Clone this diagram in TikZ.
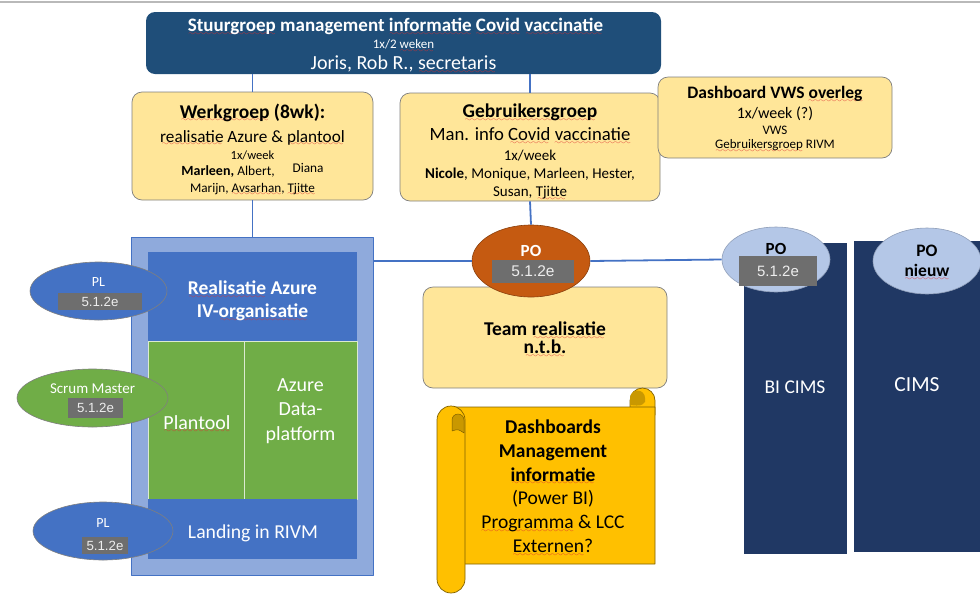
\documentclass[tikz,border=0pt]{standalone}
\usepackage{fontspec}
\setmainfont{Carlito}
\newfontfamily\arialfont{Liberation Sans}
\usetikzlibrary{shapes.geometric}
\definecolor{stuurblue}{HTML}{1F4E79}
\definecolor{lightyel}{HTML}{FFE699}
\definecolor{boxgray}{HTML}{7F7F7F}
\definecolor{linkblue}{HTML}{4472C4}
\definecolor{paleblue}{HTML}{8FAADC}
\definecolor{greenfill}{HTML}{70AD47}
\definecolor{orangepo}{HTML}{C55A11}
\definecolor{lightpo}{HTML}{B4C7E7}
\definecolor{navy}{HTML}{203864}
\definecolor{codegray}{HTML}{6E6E6E}
\definecolor{codetxt}{HTML}{EDEDED}
\definecolor{scrollfill}{HTML}{FFC000}
\definecolor{scrolldark}{HTML}{C99800}
\definecolor{scrollline}{HTML}{7F6000}
\definecolor{spellred}{HTML}{E03030}
\font\wavefont=lasy7
\newcommand\spell[1]{\setbox0\hbox{#1}\rlap{\raisebox{-3.8pt}{\hbox to \wd0{\cleaders\hbox{{\color{spellred}\wavefont\char58}}\hfill}}}\box0\relax}
\newcommand\fz[1]{\fontsize{#1}{#1}\selectfont}
\newcommand\tight{\lineskiplimit-50pt\relax}
\begin{document}
\begin{tikzpicture}[x=1pt,y=-1pt,line join=round,
  ybox/.style={draw=boxgray,fill=lightyel,rounded corners=10pt,line width=0.7pt,inner sep=0pt},
  txt/.style={align=center,inner sep=0pt},
  link/.style={draw=linkblue,line width=1.8pt},
  pers/.style={ellipse,inner sep=0pt,line width=0.6pt},
  code/.style={fill=codegray,text=codetxt,inner sep=0pt,font=\arialfont\fz{13.3}},
  col/.style={fill=navy,draw=white,line width=0.5pt,inner sep=0pt},
  scroll/.style={fill=scrollfill,draw=scrollline,line width=0.7pt}]
\useasboundingbox (0,0) rectangle (980,598);
\draw[gray!55,line width=1.2pt] (0,2) -- (980,2);

\node[fill=stuurblue,rounded corners=9pt,minimum width=515pt,minimum height=62pt,inner sep=0pt] (stuur) at (403.5,43) {};
\node[txt,text=white,font=\fontsize{10}{17}\selectfont\tight] (stuurtxt) at (403.5,45.5) {\fz{19}\bfseries\spell{Stuurgroep} management \spell{informatie} \spell{Covid} \spell{vaccinatie}\hspace*{16pt}\\ \fz{13}1x/2 \spell{weken}\\[4pt] \fz{20}Joris, Rob R., \spell{secretaris}};

\node[ybox,minimum width=241pt,minimum height=108pt] (werk) at (252.5,146) {};
\node[txt,font=\fontsize{10}{17}\selectfont\tight] (werktxt) at (252.5,149.7) {\fz{19.5}\bfseries\spell{Werkgroep} (8wk):\\[7pt] \fz{17.2}\spell{realisatie} Azure \& \spell{plantool}\\[0pt] \fz{12.5}1x/week\\[-1pt] \fz{14}\textbf{Marleen,} \fz{13.5}Albert,\hspace{18pt}\raisebox{2.5pt}{\fz{13.3}Diana}\hspace*{-4pt}\\ \fz{13.2}Marijn, \spell{Avsarhan}, \spell{Tjitte}};

\node[ybox,minimum width=260pt,minimum height=108pt] (gebr) at (530,147) {};
\node[txt,font=\fontsize{10}{17}\selectfont\tight] (gebrtxt) at (530,152) {\fz{19.5}\bfseries\spell{Gebruikersgroep}\\[6pt] \fz{18.7}Man. info \spell{Covid} \spell{vaccinatie}\\[3pt] \fz{15}1x/week\\[1pt] \fz{15}\textbf{Nicole}, Monique, Marleen, Hester,\\[1pt] \fz{15}Susan, \spell{Tjitte}};

\node[ybox,minimum width=234pt,minimum height=81pt] (vws) at (775,117.5) {};
\node[txt,font=\fontsize{10}{16}\selectfont\tight] (vwstxt) at (775,119) {\fz{17.5}\bfseries Dashboard VWS \spell{overleg}\\[4pt] \fz{16}1x/week (?)\\ \fz{13}VWS\\[-2pt] \fz{13}\spell{Gebruikersgroep} RIVM};

\node[fill=paleblue,draw=linkblue,line width=0.8pt,minimum width=242pt,minimum height=338pt,inner sep=0pt] (bigbox) at (252,406) {};
\node[fill=linkblue,minimum width=209pt,minimum height=89pt,inner sep=0pt] (realis) at (252.5,296.5) {};
\node[txt,text=white,font=\fontsize{19.5}{23}\selectfont\bfseries\tight] (realistxt) at (252.5,301.5) {\spell{Realisatie} Azure\\IV-\spell{organisatie}};
\node[fill=greenfill,draw=white!75!greenfill,line width=0.6pt,minimum width=96pt,minimum height=158pt,inner sep=0pt] (plantool) at (196,420) {};
\node[txt,text=white,font=\fz{20}] (plantooltxt) at (197,424) {\spell{Plantool}};
\node[fill=greenfill,draw=white!75!greenfill,line width=0.6pt,minimum width=113pt,minimum height=158pt,inner sep=0pt] (dataplat) at (300.5,420) {};
\node[txt,text=white,font=\fontsize{20}{24.5}\selectfont\tight] (dataplattxt) at (300.5,411) {Azure\\Data-\\platform};
\node[fill=linkblue,minimum width=209pt,minimum height=60pt,inner sep=0pt] (landing) at (252.5,529) {};
\node[txt,text=white,font=\fz{19.7}] (landingtxt) at (253,533) {Landing in RIVM};

\node[pers,fill=linkblue,draw=boxgray,minimum width=137pt,minimum height=58pt] (plA) at (98.5,291) {};
\node[txt,text=white,font=\fz{14}] (plAtxt) at (98.5,282) {PL};
\node[code,minimum width=84pt,minimum height=17pt] (plAcode) at (100,301.5) {5.1.2e};
\node[pers,fill=greenfill,draw=boxgray,minimum width=151pt,minimum height=58pt] (scrum) at (92.5,398) {};
\node[txt,text=white,font=\fz{15}] (scrumtxt) at (92.5,389) {Scrum Master};
\node[code,minimum width=55pt,minimum height=20pt] (scrumcode) at (95.5,408) {5.1.2e};
\node[pers,fill=linkblue,draw=boxgray,minimum width=140pt,minimum height=58pt] (plB) at (103,531) {};
\node[txt,text=white,font=\fz{14}] (plBtxt) at (103,523) {PL};
\node[code,minimum width=46pt,minimum height=17pt] (plBcode) at (105,545.5) {5.1.2e};

\node[ybox,minimum width=244pt,minimum height=101pt] (team) at (545,337.5) {};
\node[txt,font=\fontsize{19.5}{18}\selectfont\bfseries\tight] (teamtxt) at (545,340) {Team \spell{realisatie}\\\spell{n.t.b.}};
\node[pers,fill=orangepo,draw=orangepo!70!black,minimum width=118pt,minimum height=72pt] (po) at (531,261) {};
\node[txt,text=white,font=\fz{17}\bfseries] (potxt) at (531,251) {PO};
\node[code,font=\arialfont\fz{15.5},minimum width=82pt,minimum height=23pt] (pocode) at (533,271.5) {5.1.2e};

\path[scroll] (630,415) -- (630,400.5) arc[start angle=180,end angle=360,radius=12.5] -- (655,415) -- cycle;
\fill[scrolldark] (630,405) -- (630,398) arc[start angle=180,end angle=360,radius=7.5] -- (645,402) .. controls (641,406) .. (630,405);
\path[scroll] (451,407) -- (655,407) -- (655,564) -- (464,564) -- (464,432) -- cycle;
\path[scroll] (437,420) arc[start angle=180,end angle=360,radius=14] -- (465,579) arc[start angle=0,end angle=180,radius=14] -- cycle;
\path[fill=scrolldark,draw=scrollline,line width=0.5pt] (452,431) -- (452,420) arc[start angle=180,end angle=360,radius=6] -- (464,433) .. controls (458,429) .. (452,431);
\node[txt,font=\fontsize{19.5}{23.8}\selectfont\tight] (dashtxt) at (553,488) {\textbf{Dashboards}\\\textbf{Management}\\\textbf{\spell{informatie}}\\(Power BI)\\\spell{Programma} \& LCC\\\spell{Externen}?};

\node[col,minimum width=104pt,minimum height=312pt] (bicims) at (795,398) {};
\node[txt,text=white,font=\fz{19.5}] (bicimstxt) at (795,387) {BI CIMS};
\node[col,minimum width=132pt,minimum height=312pt] (cims) at (919,396) {};
\node[txt,text=white,font=\fz{21.5}] (cimstxt) at (917,385) {CIMS};
\node[pers,fill=lightpo,draw=lightpo!80!black,minimum width=108pt,minimum height=65pt] (pobi) at (776,259.5) {};
\node[txt,font=\fz{17}\bfseries] (pobitxt) at (776,248.5) {PO};
\node[code,font=\arialfont\fz{15},minimum width=78pt,minimum height=30pt] (pobicode) at (778,271) {5.1.2e};
\node[pers,fill=lightpo,draw=lightpo!80!black,minimum width=108pt,minimum height=66pt] (ponieuw) at (927,261) {};
\node[txt,font=\fontsize{17.5}{20}\selectfont\bfseries\tight] (ponieuwtxt) at (927,263) {PO\\\spell{nieuw}};

\draw[link] (werk.north) -- (werk.north |- stuur.south);
\draw[link] (gebr.north) -- (gebr.north |- stuur.south);
\draw[link] (werk.south) -- (werk.south |- bigbox.north);
\draw[link] (gebr.south) -- (po.north);
\draw[link] (bigbox.east |- po.west) -- (po.west);
\draw[link] (po.east) -- (pobi.west);
\end{tikzpicture}
\end{document}
